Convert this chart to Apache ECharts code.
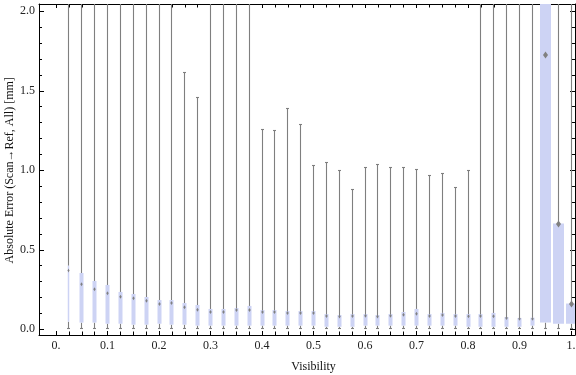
<!DOCTYPE html>
<html>
<head>
<meta charset="utf-8">
<script src="https://cdn.jsdelivr.net/npm/echarts@6/dist/echarts.min.js"></script>
<style>
  html, body { margin: 0; padding: 0; background: #fff; }
  #main { width: 576px; height: 375px; }
</style>
</head>
<body>
<div id="main"></div>
<script>
// visibility bins (box centres)
const visibility = [0.025, 0.05, 0.075, 0.1, 0.125, 0.15, 0.175, 0.2, 0.225, 0.25,
  0.275, 0.3, 0.325, 0.35, 0.375, 0.4, 0.425, 0.45, 0.475, 0.5,
  0.525, 0.55, 0.575, 0.6, 0.625, 0.65, 0.675, 0.7, 0.725, 0.75,
  0.775, 0.8, 0.825, 0.85, 0.875, 0.9, 0.925, 0.95, 0.975, 1.0];
// absolute error [mm]; whisker tops above ~2.05 run off the top of the frame
const whiskerLow = [0.003, 0.004, 0.004, 0.006, 0.004, 0.003, 0.004, 0.002, 0.003, 0.004,
  0.003, 0.004, 0.003, 0.004, 0.003, 0.004, 0.003, 0.004, 0.003, 0.004,
  0.003, 0.003, 0.004, 0.003, 0.004, 0.003, 0.003, 0.004, 0.003, 0.003,
  0.004, 0.003, 0.003, 0.004, 0.003, 0.003, 0.004, 0.003, 0.003, 0.004];
const q1 = [0.048, 0.042, 0.042, 0.035, 0.035, 0.029, 0.029, 0.035, 0.029, 0.029,
  0.023, 0.023, 0.023, 0.023, 0.023, 0.023, 0.023, 0.023, 0.023, 0.023,
  0.016, 0.016, 0.016, 0.023, 0.023, 0.023, 0.023, 0.023, 0.023, 0.023,
  0.023, 0.016, 0.016, 0.016, 0.016, 0.016, 0.023, 0.042, 0.035, 0.035];
const median = [0.37, 0.283, 0.252, 0.226, 0.205, 0.195, 0.18, 0.159, 0.165, 0.138,
  0.123, 0.109, 0.109, 0.121, 0.121, 0.109, 0.109, 0.103, 0.103, 0.103,
  0.084, 0.08, 0.084, 0.086, 0.08, 0.086, 0.092, 0.098, 0.084, 0.09,
  0.084, 0.082, 0.084, 0.082, 0.071, 0.067, 0.066, 1.725, 0.662, 0.159];
const q3 = [0.40, 0.354, 0.304, 0.279, 0.235, 0.222, 0.203, 0.184, 0.184, 0.165,
  0.153, 0.128, 0.128, 0.134, 0.147, 0.121, 0.121, 0.115, 0.115, 0.115,
  0.096, 0.09, 0.096, 0.096, 0.09, 0.096, 0.109, 0.128, 0.096, 0.103,
  0.096, 0.096, 0.096, 0.103, 0.077, 0.071, 0.073, 2.6, 0.665, 0.162];
const whiskerHigh = [3.1, 2.9, 3.0, 2.8, 2.7, 2.9, 2.6, 2.8, 2.5, 1.618,
  1.455, 2.7, 2.6, 2.5, 2.4, 1.258, 1.252, 1.39, 1.29, 1.031,
  1.05, 1.0, 0.88, 1.019, 1.038, 1.019, 1.019, 1.006, 0.969, 0.981,
  0.893, 1.0, 2.4, 2.6, 2.5, 2.7, 2.6, 3.2, 2.9, 2.4];
const xTickLabels = ['0.', '0.1', '0.2', '0.3', '0.4', '0.5', '0.6', '0.7', '0.8', '0.9', '1.'];
const yTickLabels = ['0.0', '0.5', '1.0', '1.5', '2.0'];

// layout in pixels: frame and where x=0/1, y=0/2 fall
const FRAME = { left: 39, top: 4, right: 575, bottom: 335 };
const X0 = 56, X1 = 571;
const Y0 = 329.3, Y2 = 11.3;
const pxX = X1 - X0;
const pxY = (Y0 - Y2) / 2;
const xMin = (FRAME.left - X0) / pxX;
const xMax = 1 + (FRAME.right - X1) / pxX;
const yMin = -(FRAME.bottom - Y0) / pxY;
const yMax = 2 + (Y2 - FRAME.top) / pxY;

const BOX = '#cdd3f4';
const WHISKER = '#7f7f7f';
const FONT = "'Liberation Serif', 'Times New Roman', serif";

const chart = echarts.init(document.getElementById('main'));

function crisp(v) { return Math.round(v - 0.5) + 0.5; }

function renderBox(params, api) {
  const i = params.dataIndex;
  const x = api.value(0);
  const lo = api.coord([x, api.value(1)]);
  const b1 = api.coord([x, api.value(2)]);
  const md = api.coord([x, api.value(3)]);
  const b3 = api.coord([x, api.value(4)]);
  const hi = api.coord([x, api.value(5)]);
  const cx = crisp(lo[0]);
  // box width: first bin is only a sliver, the last three are wide
  let w = 4, dw = 1.2, dh = 2;
  if (i === 0) { w = 1.5; dw = 0.9; }
  if (x >= 0.95) { w = 11; dw = 2.5; dh = 3.5; }
  const ws = { stroke: WHISKER, lineWidth: 1.1 };
  const children = [
    { type: 'line', shape: { x1: cx, y1: hi[1], x2: cx, y2: b3[1] }, style: ws },
    { type: 'line', shape: { x1: cx, y1: b1[1], x2: cx, y2: lo[1] }, style: ws },
    { type: 'line', shape: { x1: cx - 1.5, y1: crisp(hi[1]), x2: cx + 1.5, y2: crisp(hi[1]) }, style: ws },
    { type: 'line', shape: { x1: cx - 1.5, y1: crisp(lo[1]), x2: cx + 1.5, y2: crisp(lo[1]) }, style: ws },
    { type: 'rect', shape: { x: cx - w / 2, y: b3[1], width: w, height: b1[1] - b3[1] }, style: { fill: BOX } },
    { type: 'polygon', shape: { points: [[cx, md[1] - dh], [cx + dw, md[1]], [cx, md[1] + dh], [cx - dw, md[1]]] },
      style: { fill: '#808080' } }
  ];
  return { type: 'group', children: children };
}

const frameAxis = {
  type: 'value',
  gridIndex: 0,
  axisLine: { show: true, onZero: false, lineStyle: { color: '#000', width: 1 } },
  axisTick: { show: false },
  axisLabel: { show: false },
  splitLine: { show: false }
};

const tickAxisX = {
  type: 'value',
  gridIndex: 1,
  min: 0,
  max: 1,
  interval: 0.1,
  axisLine: { show: false, onZero: false },
  axisTick: { show: true, inside: true, length: 4, lineStyle: { color: '#000' } },
  minorTick: { show: true, splitNumber: 4, length: 3.5, lineStyle: { color: '#000' } },
  splitLine: { show: false },
  minorSplitLine: { show: false }
};

const tickAxisY = {
  type: 'value',
  gridIndex: 1,
  min: 0,
  max: 2,
  interval: 0.5,
  axisLine: { show: false, onZero: false },
  axisTick: { show: true, inside: true, length: 5, lineStyle: { color: '#000' } },
  minorTick: { show: true, splitNumber: 5, length: 3, lineStyle: { color: '#000' } },
  splitLine: { show: false },
  minorSplitLine: { show: false }
};

chart.setOption({
  animation: false,
  grid: [
    { left: FRAME.left, top: FRAME.top, width: FRAME.right - FRAME.left, height: FRAME.bottom - FRAME.top,
      containLabel: false, outerBoundsMode: 'none' },
    { left: X0, top: Y2, width: X1 - X0, height: Y0 - Y2, containLabel: false, outerBoundsMode: 'none' }
  ],
  xAxis: [
    Object.assign({}, frameAxis, { position: 'bottom', min: xMin, max: xMax }),
    Object.assign({}, frameAxis, { position: 'top', min: xMin, max: xMax }),
    Object.assign({}, tickAxisX, {
      position: 'bottom',
      offset: FRAME.bottom - Y0,
      axisLabel: {
        margin: 5,
        color: '#222',
        fontFamily: FONT,
        fontSize: 12,
        formatter: function (v) { return xTickLabels[Math.round(v * 10)]; }
      },
      name: 'Visibility',
      nameLocation: 'middle',
      nameGap: 26,
      nameMoveOverlap: false,
      nameTextStyle: { color: '#111', fontFamily: FONT, fontSize: 12 }
    }),
    Object.assign({}, tickAxisX, {
      position: 'top',
      offset: Y2 - FRAME.top,
      axisLabel: { show: false }
    })
  ],
  yAxis: [
    Object.assign({}, frameAxis, { position: 'left', min: yMin, max: yMax }),
    Object.assign({}, frameAxis, { position: 'right', min: yMin, max: yMax }),
    Object.assign({}, tickAxisY, {
      position: 'left',
      offset: X0 - FRAME.left,
      axisLabel: {
        margin: 4,
        color: '#222',
        fontFamily: FONT,
        fontSize: 12,
        formatter: function (v) { return yTickLabels[Math.round(v * 2)]; }
      },
      name: 'Absolute Error (Scan\u2192Ref, All) [mm]',
      nameLocation: 'middle',
      nameGap: 23,
      nameMoveOverlap: false,
      nameTextStyle: { color: '#111', fontFamily: FONT, fontSize: 12 }
    }),
    Object.assign({}, tickAxisY, {
      position: 'right',
      offset: FRAME.right - X1,
      axisLabel: { show: false }
    })
  ],
  series: [{
    type: 'custom',
    xAxisIndex: 0,
    yAxisIndex: 0,
    clip: true,
    renderItem: renderBox,
    encode: { x: 0, y: [1, 2, 3, 4, 5] },
    data: visibility.map(function (v, i) {
      return [v, whiskerLow[i], q1[i], median[i], q3[i], whiskerHigh[i]];
    })
  }]
});
</script>
</body>
</html>
